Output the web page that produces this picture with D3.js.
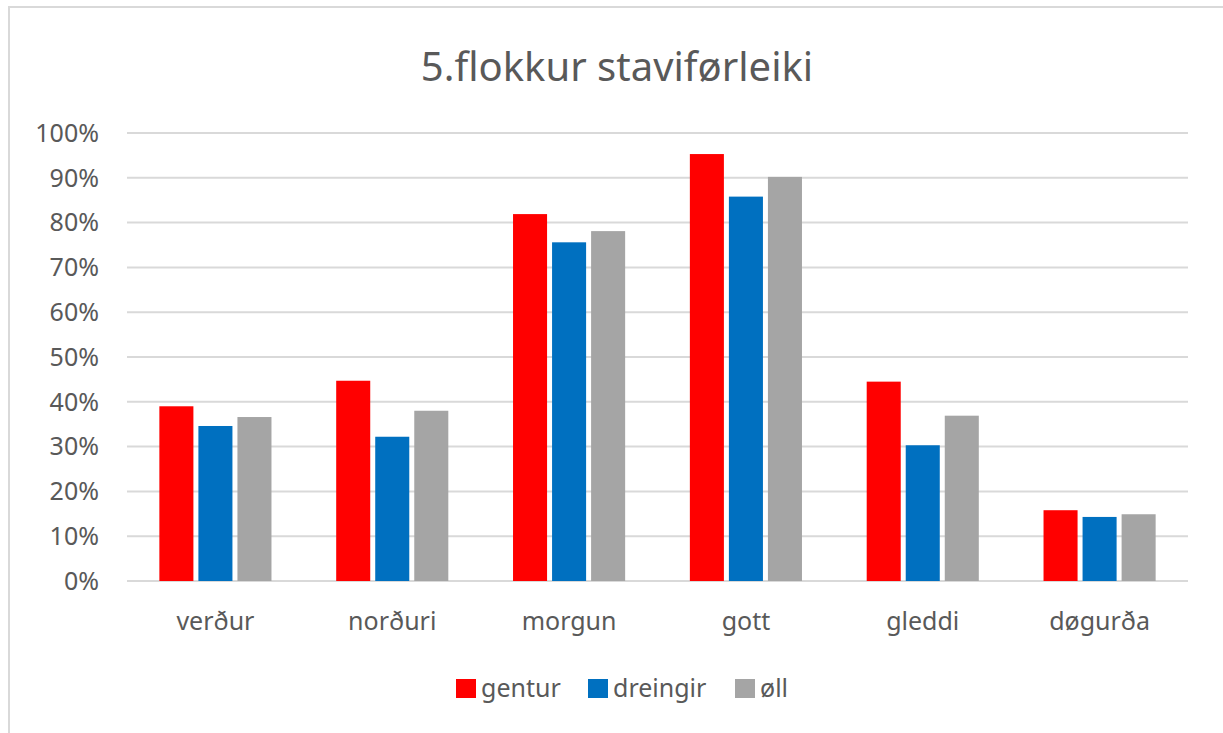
<!DOCTYPE html>
<meta charset="utf-8">
<style>
  body { margin: 0; background: #fff; }
  text { font-family: "Noto Sans", sans-serif; }
</style>
<svg width="1223" height="733"></svg>
<script src="https://d3js.org/d3.v7.min.js"></script>
<script>

var categories = ["verður", "norðuri", "morgun", "gott", "gleddi", "døgurða"];
var seriesNames = ["gentur", "dreingir", "øll"];
var gentur = [0.39, 0.447, 0.819, 0.953, 0.445, 0.158];
var dreingir = [0.346, 0.322, 0.756, 0.858, 0.303, 0.143];
var oll = [0.366, 0.38, 0.781, 0.902, 0.369, 0.149];
var colors = ["#ff0000", "#0070c0", "#a5a5a5"];
var yTicks = [0, 0.1, 0.2, 0.3, 0.4, 0.5, 0.6, 0.7, 0.8, 0.9, 1];

var values = [gentur, dreingir, oll];

var svg = d3.select("svg");

// chart border (right and bottom run off the picture)
svg.append("rect")
    .attr("x", 9).attr("y", 7)
    .attr("width", 1240).attr("height", 760)
    .attr("fill", "none")
    .attr("stroke", "#d9d9d9")
    .attr("stroke-width", 2);

var plotLeft = 127, plotRight = 1188, plotTop = 133, plotBottom = 581;

var x = d3.scaleBand()
    .domain(categories)
    .range([plotLeft, plotRight])
    .paddingInner(0.366)
    .paddingOuter(0.183);

var x1 = d3.scaleBand()
    .domain(seriesNames)
    .range([0, x.bandwidth()])
    .paddingInner(0.128);

var y = d3.scaleLinear()
    .domain([0, 1])
    .range([plotBottom, plotTop]);

// gridlines
svg.append("g")
  .selectAll("line")
  .data(yTicks)
  .enter().append("line")
    .attr("x1", plotLeft).attr("x2", plotRight)
    .attr("y1", function(d) { return y(d); })
    .attr("y2", function(d) { return y(d); })
    .attr("stroke", "#d9d9d9")
    .attr("stroke-width", 2);

// y tick labels
svg.append("g")
  .selectAll("text")
  .data(yTicks)
  .enter().append("text")
    .attr("x", 99)
    .attr("y", function(d) { return y(d); })
    .attr("dy", "0.35em")
    .attr("text-anchor", "end")
    .attr("font-size", 25)
    .attr("fill", "#595959")
    .text(function(d) { return d3.format(".0%")(d); });

// bars
var groups = svg.append("g")
  .selectAll("g")
  .data(categories)
  .enter().append("g")
    .attr("transform", function(d) { return "translate(" + x(d) + ",0)"; });

groups.selectAll("rect")
    .data(function(d, i) {
      return seriesNames.map(function(s, j) { return { s: s, v: values[j][i], c: colors[j] }; });
    })
  .enter().append("rect")
    .attr("x", function(d) { return x1(d.s); })
    .attr("y", function(d) { return y(d.v); })
    .attr("width", x1.bandwidth())
    .attr("height", function(d) { return y(0) - y(d.v); })
    .attr("fill", function(d) { return d.c; });

// category labels
svg.append("g")
  .selectAll("text")
  .data(categories)
  .enter().append("text")
    .attr("x", function(d) { return x(d) + x.bandwidth() / 2; })
    .attr("y", 630)
    .attr("text-anchor", "middle")
    .attr("font-size", 25)
    .attr("fill", "#595959")
    .text(function(d) { return d; });

// title
svg.append("text")
    .attr("x", 617)
    .attr("y", 81)
    .attr("text-anchor", "middle")
    .attr("font-size", 40)
    .attr("fill", "#595959")
    .text("5.flokkur staviførleiki");

// legend
var legendX = [456, 588, 735];
var legend = svg.append("g")
  .selectAll("g")
  .data(seriesNames)
  .enter().append("g")
    .attr("transform", function(d, i) { return "translate(" + legendX[i] + ",679)"; });

legend.append("rect")
    .attr("width", 20).attr("height", 19)
    .attr("fill", function(d, i) { return colors[i]; });

legend.append("text")
    .attr("x", 25)
    .attr("y", 18)
    .attr("font-size", 25)
    .attr("fill", "#595959")
    .text(function(d) { return d; });

</script>
